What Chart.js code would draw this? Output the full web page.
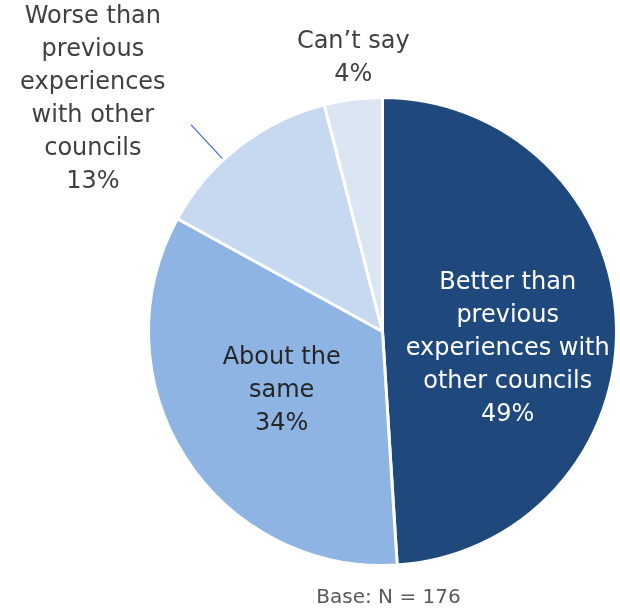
<!DOCTYPE html>
<html>
<head>
<meta charset="utf-8">
<script src="https://cdn.jsdelivr.net/npm/chart.js@4/dist/chart.umd.min.js"></script>
<style>
  html, body { margin: 0; padding: 0; background: #fff; }
  #wrap { width: 620px; height: 613px; position: relative; }
</style>
</head>
<body>
<div id="wrap"><canvas id="pie" width="620" height="613"></canvas></div>
<script>
// data
const categories = ['Better than previous experiences with other councils', 'About the same',
  'Worse than previous experiences with other councils', 'Can\u2019t say']
const shares = [49, 34, 13, 4]
const labelLines = [
  ['Better than', 'previous', 'experiences with', 'other councils'],
  ['About the', 'same'],
  ['Worse than', 'previous', 'experiences', 'with other', 'councils'],
  ['Can\u2019t say']
]
const baseNote = 'Base: N = 176'

const colors = ['#1F497D', '#8EB4E3', '#C6D9F1', '#DCE6F2']
const textColors = ['#ffffff', '#262626', '#404040', '#404040']
// where each label sits: fraction of radius along the slice's middle angle, plus nudge (deg)
const labelPlace = [
  {r: 0.54, da: 9.6, leader: false},
  {r: 0.50, da: 1.9, leader: false},
  {r: 1.586, da: -13.5, leader: true},
  {r: 1.175, da: 1.1, leader: false}
]
const FONT = '"DejaVu Sans", sans-serif'

const labelPlugin = {
  id: 'sliceLabels',
  afterDraw(chart) {
    const ctx = chart.ctx
    const meta = chart.getDatasetMeta(0)
    ctx.save()
    ctx.textAlign = 'center'
    ctx.textBaseline = 'middle'
    meta.data.forEach((arc, i) => {
      const p = arc.getProps(['x', 'y', 'startAngle', 'endAngle', 'outerRadius'], true)
      const mid = (p.startAngle + p.endAngle) / 2 + labelPlace[i].da * Math.PI / 180
      const rr = p.outerRadius * labelPlace[i].r
      const cx = p.x + Math.cos(mid) * rr
      const cy = p.y + Math.sin(mid) * rr
      const lines = labelLines[i].concat([shares[i] + '%'])
      const lh = 33
      const top = cy - (lines.length - 1) * lh / 2
      ctx.fillStyle = textColors[i]
      ctx.font = '24px ' + FONT
      lines.forEach((t, k) => ctx.fillText(t, cx, top + k * lh))
      if (labelPlace[i].leader) {
        const a = (p.startAngle + p.endAngle) / 2 - 5 * Math.PI / 180
        ctx.strokeStyle = '#4472C4'
        ctx.lineWidth = 1.3
        ctx.beginPath()
        ctx.moveTo(p.x + Math.cos(a) * (p.outerRadius + 2), p.y + Math.sin(a) * (p.outerRadius + 2))
        ctx.lineTo(p.x + Math.cos(a) * (p.outerRadius + 48), p.y + Math.sin(a) * (p.outerRadius + 48))
        ctx.stroke()
      }
    })
    ctx.fillStyle = '#595959'
    ctx.font = '20px ' + FONT
    ctx.fillText(baseNote, meta.data[0].x + 6, 598)
    ctx.restore()
  }
}

new Chart(document.getElementById('pie'), {
  type: 'pie',
  data: {
    labels: categories,
    datasets: [{
      data: shares,
      backgroundColor: colors,
      borderColor: '#ffffff',
      borderWidth: 3
    }]
  },
  options: {
    responsive: false,
    animation: false,
    layout: {padding: {left: 147, right: 2, top: 96, bottom: 46}},
    plugins: {
      legend: {display: false},
      tooltip: {enabled: false}
    }
  },
  plugins: [labelPlugin]
})
</script>
</body>
</html>
